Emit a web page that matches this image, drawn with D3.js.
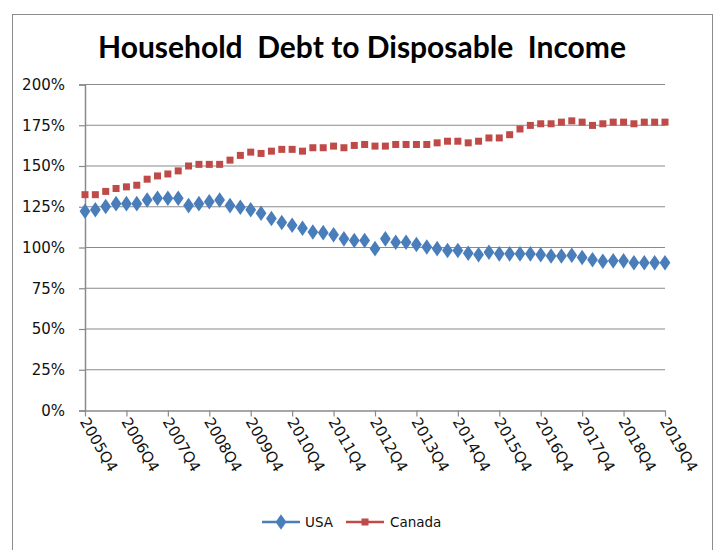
<!DOCTYPE html>
<html lang="en">
<head>
    <meta charset="UTF-8">
    <title>Household Debt to Disposable Income</title>
    <script src="https://d3js.org/d3.v7.min.js"></script>
    <style>
        body { margin: 0; background: #fff; }
        .axis-label { font-family: "DejaVu Sans", sans-serif; font-size: 15px; fill: #111; }
        .legend-label { font-family: "DejaVu Sans", sans-serif; font-size: 13.5px; fill: #111; }
        .title { font-family: Lato, "Open Sans", sans-serif; font-weight: 700; font-size: 30px; fill: #000; }
    </style>
</head>
<body>
    <svg id="chart"></svg>
    <script>
        // Quarterly categories, 2005Q4 .. 2019Q4
        var quarters = [];
        for (var yr = 2005; yr <= 2019; yr++) {
            for (var q = 1; q <= 4; q++) {
                if (yr === 2005 && q < 4) continue;
                quarters.push(yr + "Q" + q);
            }
        }

        var tickLabels = ["2005Q4", "2006Q4", "2007Q4", "2008Q4", "2009Q4", "2010Q4", "2011Q4",
            "2012Q4", "2013Q4", "2014Q4", "2015Q4", "2016Q4", "2017Q4", "2018Q4", "2019Q4"];

        var yTicks = [0, 25, 50, 75, 100, 125, 150, 175, 200];

        // debt to disposable income, percent
        var usa = [121.9, 122.9, 124.8, 126.6, 126.6, 126.6, 128.8, 129.9, 129.9, 129.9,
            125.4, 126.6, 127.8, 128.8, 125.4, 124.4, 122.8, 120.7, 117.5, 115.0,
            113.3, 111.5, 109.2, 108.8, 107.5, 105.0, 104.0, 104.0, 99.0, 105.0,
            102.9, 102.9, 101.5, 100.0, 99.0, 97.9, 97.9, 96.2, 95.3, 96.8,
            95.8, 95.8, 95.8, 95.8, 95.3, 94.5, 94.5, 94.9, 93.6, 92.2,
            91.3, 91.5, 91.5, 90.3, 90.3, 90.3, 90.3];

        var canada = [132.1, 132.1, 134.1, 135.9, 136.9, 137.9, 141.6, 143.6, 144.8, 146.7,
            149.7, 150.7, 150.7, 150.7, 153.3, 156.2, 158.2, 157.4, 158.8, 159.9,
            159.9, 158.8, 160.9, 160.9, 161.9, 160.9, 162.3, 162.9, 161.9, 161.9,
            162.9, 162.9, 162.9, 162.9, 163.9, 164.9, 164.9, 163.9, 164.9, 166.9,
            166.9, 168.9, 172.4, 174.6, 175.6, 175.6, 176.6, 177.4, 176.6, 174.6,
            175.6, 176.6, 176.6, 175.6, 176.6, 176.6, 176.6];

        var width = 718, height = 550;
        var plot = { left: 85, right: 665, top: 84, bottom: 410 };

        var svg = d3.select("#chart")
            .attr("width", width)
            .attr("height", height);

        // outer chart border
        svg.append("rect")
            .attr("x", 12.5).attr("y", 14.5)
            .attr("width", 700).attr("height", 545)
            .attr("fill", "#fff")
            .attr("stroke", "#8c8c8c");

        svg.append("text")
            .attr("class", "title")
            .attr("x", 362).attr("y", 58)
            .attr("text-anchor", "middle")
            .style("white-space", "pre")
            .text("Household  Debt to Disposable  Income");

        var xScale = d3.scalePoint()
            .domain(quarters)
            .range([plot.left, plot.right]);

        var yScale = d3.scaleLinear()
            .domain([0, 200])
            .range([plot.bottom, plot.top]);

        // gridlines
        svg.append("g")
            .selectAll("line")
            .data(yTicks.slice(1))
            .enter().append("line")
            .attr("x1", plot.left).attr("x2", plot.right)
            .attr("y1", d => yScale(d) + 0.5).attr("y2", d => yScale(d) + 0.5)
            .attr("stroke", "#8a8a8a")
            .attr("stroke-width", 1.2);

        // y axis
        var yAxis = svg.append("g")
            .attr("transform", "translate(" + plot.left + ",0.5)")
            .call(d3.axisLeft(yScale).tickValues(yTicks).tickSize(6).tickPadding(14)
                .tickFormat(d => d + "%"));
        yAxis.select(".domain").attr("stroke", "#8a8a8a").attr("stroke-width", 1.5);
        yAxis.selectAll(".tick line").attr("stroke", "#8a8a8a").attr("stroke-width", 1.2);
        yAxis.selectAll(".tick text").attr("class", "axis-label").attr("fill", null);

        // x axis
        var xAxis = svg.append("g")
            .attr("transform", "translate(0," + (plot.bottom + 0.5) + ")")
            .call(d3.axisBottom(xScale).tickValues(tickLabels).tickSize(6).tickSizeOuter(0));
        xAxis.select(".domain").attr("stroke", "#8a8a8a").attr("stroke-width", 1.5);
        xAxis.selectAll(".tick line").attr("stroke", "#8a8a8a").attr("stroke-width", 1.2);
        xAxis.selectAll(".tick text")
            .attr("class", "axis-label")
            .attr("fill", null)
            .attr("text-anchor", "start")
            .attr("dy", null)
            .attr("y", 0)
            .attr("transform", "translate(-6,11) rotate(60)");

        // markers
        var diamond = d3.symbol().type(d3.symbolDiamond).size(70);

        svg.append("g")
            .selectAll("path")
            .data(usa)
            .enter().append("path")
            .attr("d", diamond)
            .attr("transform", (d, i) => "translate(" + xScale(quarters[i]) + "," + yScale(d) + ") scale(1.2,1)")
            .attr("fill", "#4a7ebb");

        svg.append("g")
            .selectAll("rect")
            .data(canada)
            .enter().append("rect")
            .attr("x", (d, i) => xScale(quarters[i]) - 3.5)
            .attr("y", d => yScale(d) - 3.5)
            .attr("width", 7).attr("height", 7)
            .attr("fill", "#be4b48");

        // legend
        var legend = svg.append("g").attr("transform", "translate(0,522)");
        legend.append("line").attr("x1", 262).attr("x2", 300).attr("y1", 0).attr("y2", 0)
            .attr("stroke", "#4a7ebb").attr("stroke-width", 2.5);
        legend.append("path").attr("d", diamond)
            .attr("transform", "translate(281,0) scale(1.2,1)").attr("fill", "#4a7ebb");
        legend.append("text").attr("class", "legend-label").attr("x", 305).attr("y", 5).text("USA");
        legend.append("line").attr("x1", 346).attr("x2", 384).attr("y1", 0).attr("y2", 0)
            .attr("stroke", "#be4b48").attr("stroke-width", 2.5);
        legend.append("rect").attr("x", 361.5).attr("y", -3.5).attr("width", 7).attr("height", 7)
            .attr("fill", "#be4b48");
        legend.append("text").attr("class", "legend-label").attr("x", 390).attr("y", 5).text("Canada");
    </script>
</body>
</html>
